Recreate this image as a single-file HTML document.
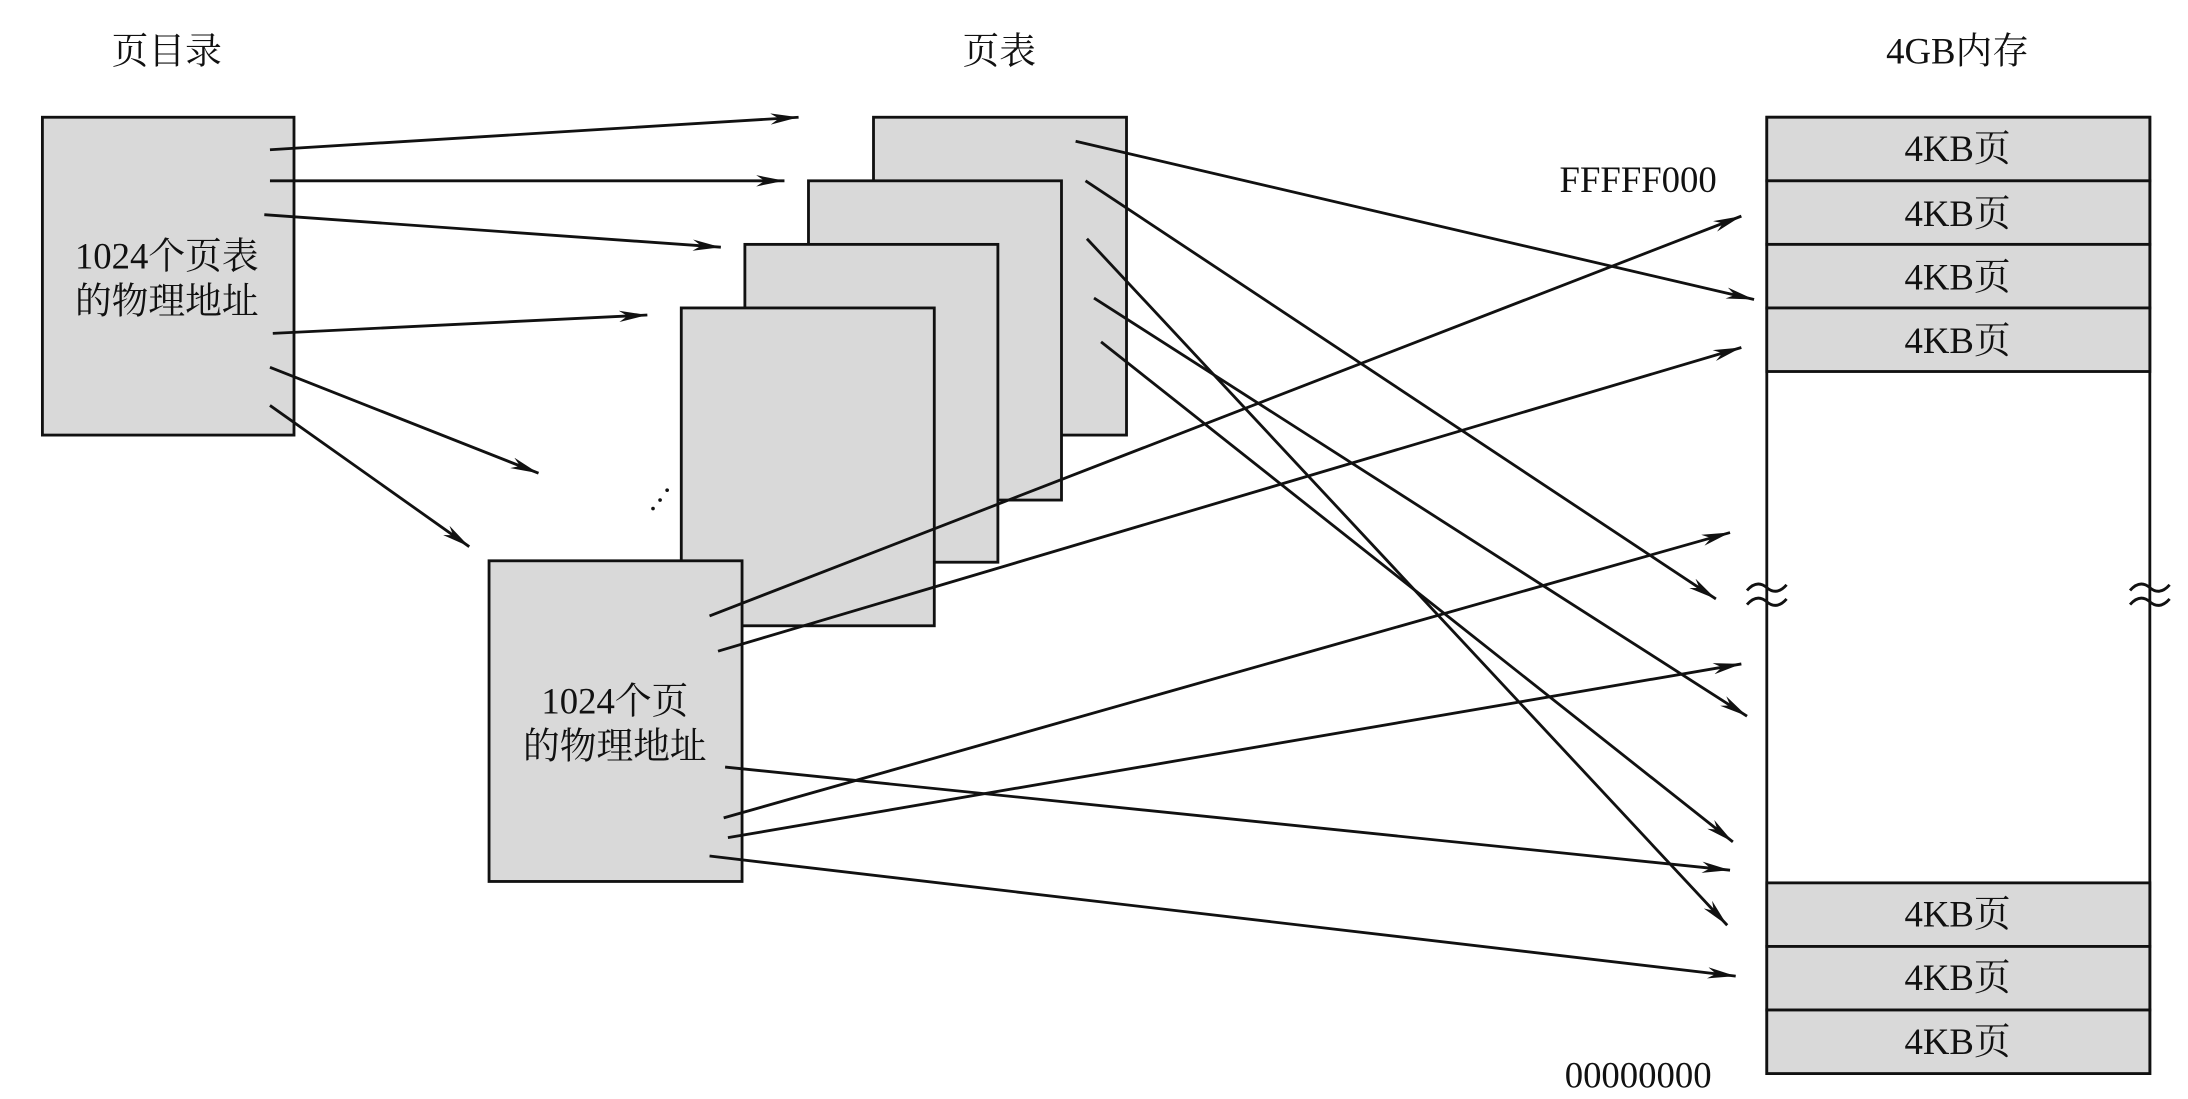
<!DOCTYPE html>
<html><head><meta charset="utf-8"><style>
html,body{margin:0;padding:0;background:#fff;}
svg{display:block;}
text{font-family:"Liberation Serif","Noto Serif CJK SC","Noto Sans CJK SC",serif;fill:#111;}
</style></head><body>
<svg width="2188" height="1099" viewBox="0 0 1548 778" preserveAspectRatio="none" xmlns="http://www.w3.org/2000/svg">
<defs>
<marker id="a" markerWidth="22" markerHeight="8" refX="20" refY="4" orient="auto" markerUnits="userSpaceOnUse">
<path d="M0,0 L20,4 L0,8 L6,4 Z" fill="#111"/>
</marker>
</defs>
<g font-size="26" text-anchor="middle">
<text x="118" y="45">页目录</text>
<text x="707" y="45">页表</text>
<text x="1385" y="45">4GB内存</text>
</g>
<g fill="#d9d9d9" stroke="#111" stroke-width="2">
<rect x="30" y="83" width="178" height="225"/>
<rect x="618" y="83" width="179" height="225"/>
<rect x="572" y="128" width="179" height="226"/>
<rect x="527" y="173" width="179" height="225"/>
<rect x="482" y="218" width="179" height="225"/>
<rect x="346" y="397" width="179" height="227"/>
<rect x="1250" y="83" width="271" height="677" fill="#fff"/>
<rect x="1250" y="83" width="271" height="45"/>
<rect x="1250" y="128" width="271" height="45"/>
<rect x="1250" y="173" width="271" height="45"/>
<rect x="1250" y="218" width="271" height="45"/>
<rect x="1250" y="625" width="271" height="45"/>
<rect x="1250" y="670" width="271" height="45"/>
<rect x="1250" y="715" width="271" height="45"/>
</g>
<g font-size="26" text-anchor="middle">
<text x="118" y="190">1024个页表</text>
<text x="118" y="222">的物理地址</text>
<text x="435" y="505">1024个页</text>
<text x="435" y="537">的物理地址</text>
<text x="1385" y="114">4KB页</text>
<text x="1385" y="160">4KB页</text>
<text x="1385" y="205">4KB页</text>
<text x="1385" y="250">4KB页</text>
<text x="1385" y="656">4KB页</text>
<text x="1385" y="701">4KB页</text>
<text x="1385" y="746">4KB页</text>
<text x="1159" y="136">FFFFF000</text>
<text x="1159" y="770">00000000</text>
</g>
<g stroke="#111" stroke-width="2" fill="none">
<path d="M1236,418 q7,-8 14,-2 q7,6 14,-2 M1236,428 q7,-8 14,-2 q7,6 14,-2"/>
<path d="M1507,418 q7,-8 14,-2 q7,6 14,-2 M1507,428 q7,-8 14,-2 q7,6 14,-2"/>
</g>
<g fill="#111"><circle cx="462" cy="360" r="1.3"/><circle cx="467" cy="354" r="1.3"/><circle cx="472" cy="347" r="1.3"/></g>
<g stroke="#111" stroke-width="2" marker-end="url(#a)">
<line x1="191" y1="106" x2="565" y2="83"/>
<line x1="191" y1="128" x2="555" y2="128"/>
<line x1="187" y1="152" x2="510" y2="175"/>
<line x1="193" y1="236" x2="458" y2="223"/>
<line x1="191" y1="260" x2="381" y2="335"/>
<line x1="191" y1="287" x2="332" y2="387"/>
<line x1="761" y1="100" x2="1241" y2="212"/>
<line x1="768" y1="128" x2="1214" y2="424"/>
<line x1="769" y1="169" x2="1222" y2="655"/>
<line x1="774" y1="211" x2="1236" y2="507"/>
<line x1="779" y1="242" x2="1226" y2="596"/>
<line x1="502" y1="436" x2="1232" y2="153"/>
<line x1="508" y1="461" x2="1232" y2="246"/>
<line x1="512" y1="579" x2="1224" y2="377"/>
<line x1="515" y1="593" x2="1232" y2="470"/>
<line x1="513" y1="543" x2="1224" y2="616"/>
<line x1="502" y1="606" x2="1228" y2="691"/>
</g>
</svg>
</body></html>
